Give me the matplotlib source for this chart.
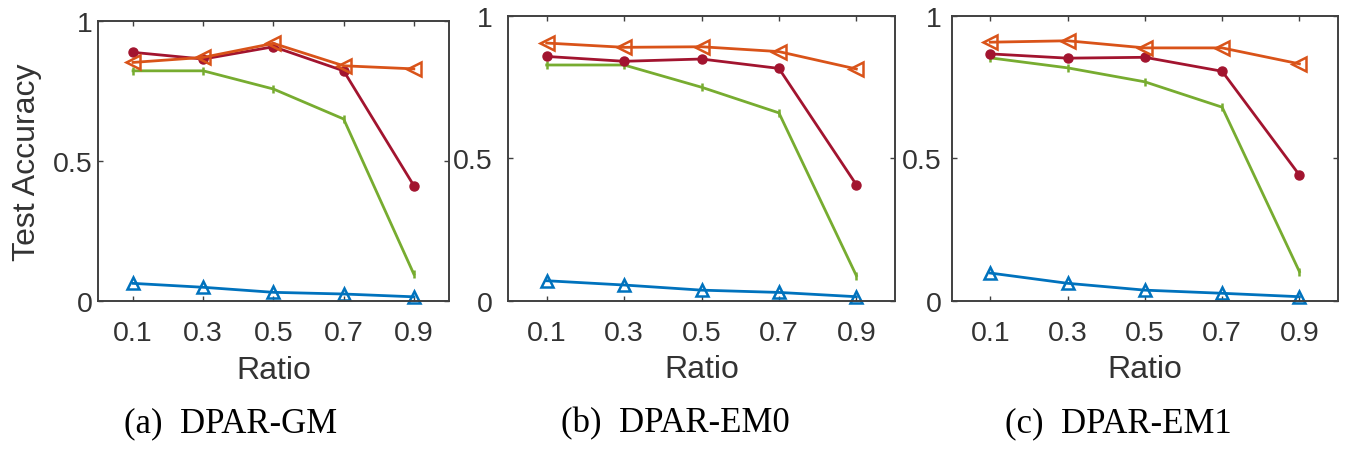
import numpy as np
import matplotlib
matplotlib.use("Agg")
import matplotlib.pyplot as plt

plt.rcParams['font.family'] = ['Liberation Sans', 'DejaVu Sans']

ratios = [0.1, 0.3, 0.5, 0.7, 0.9]

# (a) DPAR-GM
gm_red = [0.888, 0.864, 0.908, 0.822, 0.412]
gm_orange = [0.852, 0.870, 0.920, 0.840, 0.829]
gm_green = [0.822, 0.822, 0.757, 0.650, 0.096]
gm_blue = [0.063, 0.049, 0.031, 0.025, 0.015]

# (b) DPAR-EM0
em0_red = [0.857, 0.840, 0.848, 0.815, 0.407]
em0_orange = [0.904, 0.889, 0.891, 0.874, 0.813]
em0_green = [0.827, 0.827, 0.749, 0.659, 0.088]
em0_blue = [0.070, 0.055, 0.037, 0.029, 0.014]

# (c) DPAR-EM1
em1_red = [0.866, 0.851, 0.854, 0.805, 0.441]
em1_orange = [0.907, 0.912, 0.887, 0.887, 0.831]
em1_green = [0.852, 0.817, 0.768, 0.679, 0.102]
em1_blue = [0.097, 0.061, 0.037, 0.026, 0.014]

captions = ['(a)  DPAR-GM', '(b)  DPAR-EM0', '(c)  DPAR-EM1']

c_blue = '#0072BD'
c_orange = '#D95319'
c_green = '#77AC30'
c_red = '#A2142F'
axis_col = '#404040'

fig = plt.figure(figsize=(13.51, 4.56), dpi=100)

# axes rectangles in figure fractions (left, bottom, width, height)
rects = [
    (0.0725, 0.3377, 0.2598, 0.6141),
    (0.3760, 0.3384, 0.2865, 0.6250),
    (0.7044, 0.3384, 0.2860, 0.6250),
]
ypads = [4, 11, 7]
cap_x = [231 / 1351, 675 / 1351, 1118 / 1351]

panels = [
    (gm_blue, gm_green, gm_red, gm_orange),
    (em0_blue, em0_green, em0_red, em0_orange),
    (em1_blue, em1_green, em1_red, em1_orange),
]

for i, (blue, green, red, orange) in enumerate(panels):
    ax = fig.add_axes(rects[i])
    ax.plot(ratios, blue, '-^', color=c_blue, lw=2, ms=9, mfc='none', mew=1.8, clip_on=False)
    ax.plot(ratios, green, '-|', color=c_green, lw=2, ms=6, mew=1.8)
    ax.plot(ratios, red, '-o', color=c_red, lw=2, ms=6.5, mfc=c_red, mec=c_red)
    ax.plot(ratios, orange, '-<', color=c_orange, lw=2, ms=10, mfc='none', mew=1.8)

    ax.set_xlim(0, 1)
    ax.set_ylim(0, 1)
    ax.set_xticks(ratios)
    ax.set_xticklabels(['0.1', '0.3', '0.5', '0.7', '0.9'])
    ax.set_yticks([0, 0.5, 1])
    ax.set_yticklabels(['0', '0.5', '1'])
    ax.tick_params(direction='in', length=3.5, width=1, colors=axis_col,
                   labelsize=20.5, top=True, right=True)
    ax.tick_params(axis='x', pad=14, labelcolor='#333333')
    ax.tick_params(axis='y', pad=ypads[i], labelcolor='#333333')
    for sp in ax.spines.values():
        sp.set_color(axis_col)
        sp.set_linewidth(1.4)

    ax.set_xlabel('Ratio', fontsize=23, color='#333333', labelpad=6)
    if i == 0:
        ax.set_ylabel('Test Accuracy', fontsize=23, color='#333333', labelpad=8)

    fig.text(cap_x[i], 1 - 424 / 456, captions[i], ha='center', va='center',
             fontsize=25, family=['Liberation Serif', 'DejaVu Serif'])

fig.savefig('out.png', dpi=100)
